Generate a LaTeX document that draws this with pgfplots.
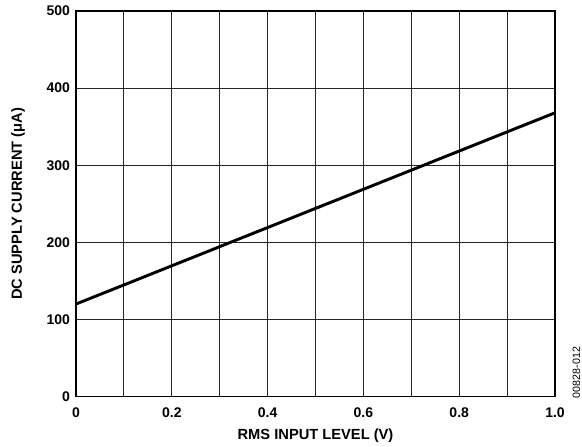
\documentclass[border=0pt]{standalone}
\usepackage{fontspec}
\setmainfont{Liberation Sans}
\usepackage{pgfplots}
\pgfplotsset{compat=1.18}

\begin{document}
\begin{tikzpicture}
\begin{axis}[
    scale only axis,
    width=359pt, height=289pt,
    xmin=0, xmax=1, ymin=0, ymax=500,
    xtick={0,0.2,0.4,0.6,0.8,1.0},
    xticklabels={0,0.2,0.4,0.6,0.8,1.0},
    minor xtick={0.1,0.3,0.5,0.7,0.9},
    ytick={0,100,200,300,400,500},
    /pgf/number format/assume math mode=true,
    grid=both,
    major grid style={line width=0.7pt, black!85},
    minor grid style={line width=0.7pt, black!85},
    major tick length=0pt, minor tick length=0pt,
    axis line style={line width=1.4pt},
    tick label style={font=\fontsize{10.5}{12}\selectfont\bfseries},
    xticklabel style={anchor=base, yshift=-15.5pt},
    yticklabel style={xshift=-1pt},
    xlabel={RMS INPUT LEVEL (V)},
    ylabel={DC SUPPLY CURRENT (μA)},
    label style={font=\fontsize{11}{12}\selectfont\bfseries},
    xlabel style={at={(axis description cs:0.5,0)}, anchor=base, yshift=-32pt},
    ylabel style={at={(axis description cs:-0.121,0.5)}, anchor=center},
]
\addplot[black, line width=2.2pt] coordinates {
    (0, 120)
    (1.0, 368)
};
\end{axis}
\node[rotate=90, font=\fontsize{8}{9}\selectfont] at (375pt,18pt) {00828-012};
\pgfresetboundingbox
\path (-57pt,-37.5pt) rectangle (379.25pt,297.25pt);
\end{tikzpicture}
\end{document}
